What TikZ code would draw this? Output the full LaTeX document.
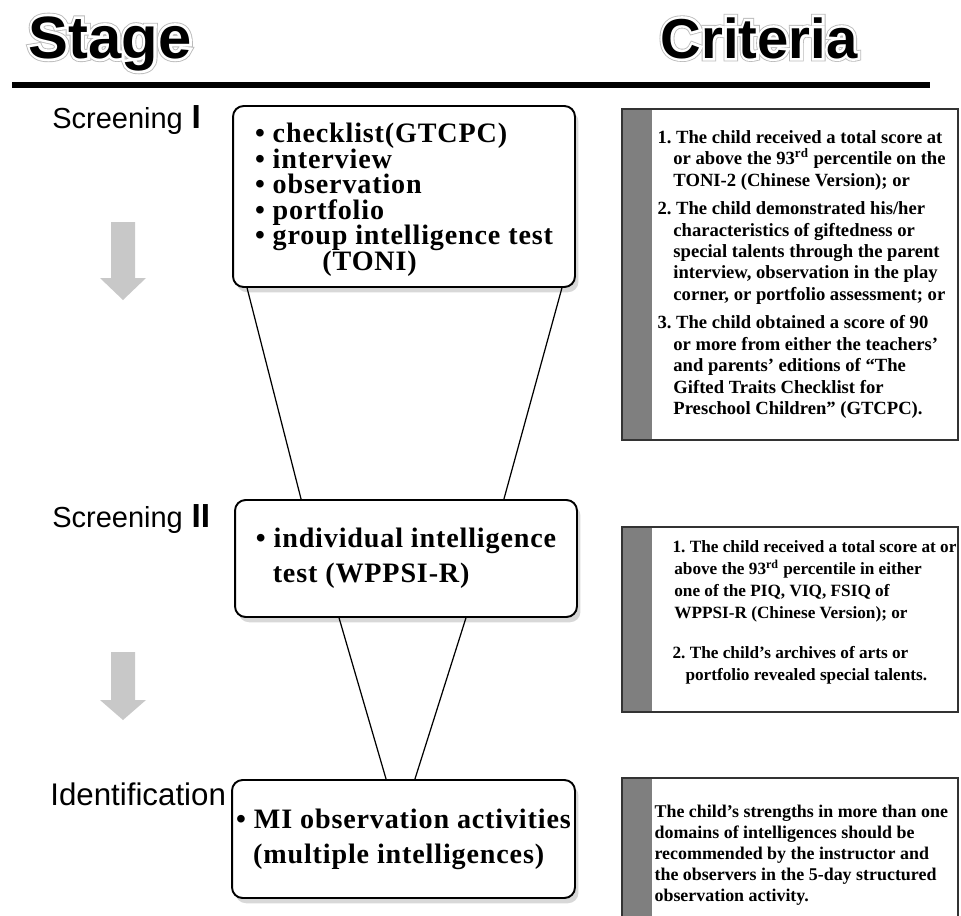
\documentclass[tikz,border=0pt]{standalone}
\usepackage{fontspec}
\setmainfont{Liberation Serif}
\setsansfont{Liberation Sans}
\newfontface\haloouter[FakeBold=12]{Liberation Sans Bold}
\newfontface\haloinner[FakeBold=9]{Liberation Sans Bold}
\newfontface\testface[LetterSpace=3]{Liberation Serif Bold}
\usetikzlibrary{
    calc,
    shadows,
    positioning
}
\frenchspacing

\definecolor{stripgray}{HTML}{7F7F7F}
\definecolor{arrowgray}{HTML}{C8C8C8}
\definecolor{framegray}{HTML}{333333}
\definecolor{halogray}{HTML}{BBBBBB}

\newcommand{\stagefont}{\sffamily\fontsize{16.5}{18}\selectfont}
\newcommand{\bignum}[1]{{\bfseries\fontsize{19}{19}\selectfont #1}}
\newcommand{\testfont}{\testface\fontsize{16}{14.5}\selectfont\lineskiplimit=-\maxdimen}
\newcommand{\critfont}[2]{\bfseries\fontsize{#1}{#2}\selectfont}

\tikzset{
    heading/.style={anchor=base, inner sep=0pt},
    stagelabel/.style={anchor=base west, inner sep=0pt, font=\stagefont},
    testbox/.style={draw, line width=1.1pt, rounded corners=6pt, fill=white,
        align=left, inner sep=2pt, font=\testfont,
        drop shadow={shadow xshift=2pt, shadow yshift=-3pt, opacity=0.3}},
    critbox/.style={draw=framegray, line width=0.9pt, fill=white,
        path picture={\fill[stripgray] (path picture bounding box.north west)
            rectangle ([xshift=0.6cm]path picture bounding box.south west);}},
    crittext/.style 2 args={align=left, inner sep=0pt, font={\critfont{#1}{#2}}},
    funnel/.style={line width=0.7pt},
    stagearrow/.style={fill=arrowgray, draw=none}
}

\begin{document}
\begin{tikzpicture}[x=0.02cm, y=-0.02cm]
    \useasboundingbox (0,0) rectangle (961,916);
    \fill[white] (0,0) rectangle (961,916);

    % headings
    \node[heading, text=halogray, font=\haloouter\fontsize{34}{34}\selectfont] (stage-halo) at (110,58) {Stage};
    \node[heading, text=white, font=\haloinner\fontsize{34}{34}\selectfont] (stage-gap) at (stage-halo.base) {Stage};
    \node[heading, font=\sffamily\bfseries\fontsize{34}{34}\selectfont] (stage) at (stage-halo.base) {Stage};
    \node[heading, text=halogray, font=\haloouter\fontsize{32}{32}\selectfont] (criteria-halo) at (759,58) {Criteria};
    \node[heading, text=white, font=\haloinner\fontsize{32}{32}\selectfont] (criteria-gap) at (criteria-halo.base) {Criteria};
    \node[heading, font=\sffamily\bfseries\fontsize{32}{32}\selectfont] (criteria) at (criteria-halo.base) {Criteria};
    \draw[line width=3.4pt] (12,85) -- (930,85);

    % stages
    \node[stagelabel] (scr1) at (52,128) {Screening\hspace{5pt}\bignum{I}};
    \node[stagelabel] (scr2) at (52,527) {Screening\hspace{5pt}\bignum{II}};
    \node[stagelabel, font=\sffamily\fontsize{17.8}{19}\selectfont] (ident) at (50,805) {Identification};

    \fill[stagearrow] (111,222) -- (135,222) -- (135,278) -- (146,278) -- (123,300) -- (100,278) -- (111,278) -- cycle;
    \fill[stagearrow] (111,652) -- (135,652) -- (135,700) -- (146,700) -- (123,720) -- (100,700) -- (111,700) -- cycle;

    % tests
    \node[testbox, minimum width=6.84cm, minimum height=3.62cm] (test1) at (404,196.5)
        {\rule{0pt}{15pt}• checklist(GTCPC)\\ • interview\\ • observation\\ • portfolio\\
         • group intelligence test\\ \hspace*{2.4em}(TONI)};
    \node[testbox, minimum width=6.84cm, minimum height=2.34cm] (test2) at (406,558.5)
        {• individual intelligence\\[5.5pt] \hspace*{0.6em}test (WPPSI-R)};
    \node[testbox, minimum width=6.86cm, minimum height=2.36cm] (test3) at (403.5,839)
        {• MI observation activities\\[5.5pt] \hspace*{0.6em}(multiple intelligences)};

    \draw[funnel] ($(test1.south west)+(15,0)$) -- ($(test2.north west)+(67,0)$);
    \draw[funnel] ($(test1.south east)+(-14,0)$) -- ($(test2.north east)+(-74,0)$);
    \draw[funnel] ($(test2.south west)+(105,0)$) -- ($(test3.north west)+(155,0)$);
    \draw[funnel] ($(test2.south east)+(-112,0)$) -- ($(test3.north east)+(-161,0)$);

    % criteria
    \node[critbox, minimum width=6.72cm, minimum height=6.62cm] (crit1) at (790,274.5) {};
    \node[crittext={10.6}{12.2}, anchor=west] (crit1-text) at ($(crit1.west)+(36,0)$)
        {1. The child received a total score at\\
         \hspace*{0.85em}or above the 93\textsuperscript{rd} percentile on the\\
         \hspace*{0.85em}TONI-2 (Chinese Version); or\\[4pt]
         2. The child demonstrated his/her\\
         \hspace*{0.85em}characteristics of giftedness or\\
         \hspace*{0.85em}special talents through the parent\\
         \hspace*{0.85em}interview, observation in the play\\
         \hspace*{0.85em}corner, or portfolio assessment; or\\[4pt]
         3. The child obtained a score of 90\\
         \hspace*{0.85em}or more from either the teachers’\\
         \hspace*{0.85em}and parents’ editions of “The\\
         \hspace*{0.85em}Gifted Traits Checklist for\\
         \hspace*{0.85em}Preschool Children” (GTCPC).};

    \node[critbox, minimum width=6.72cm, minimum height=3.7cm] (crit2) at (790,619.5) {};
    \node[crittext={9.8}{12.5}, anchor=west] (crit2-text) at ($(crit2.west)+(51,-7)$)
        {1. The child received a total score at or\\
         \hspace*{0.1em}above the 93\textsuperscript{rd} percentile in either\\
         \hspace*{0.1em}one of the PIQ, VIQ, FSIQ of\\
         \hspace*{0.1em}WPPSI-R (Chinese Version); or\\[10pt]
         2. The child’s archives of arts or\\
         \hspace*{0.75em}portfolio revealed special talents.};

    \node[critbox, minimum width=6.72cm, minimum height=3.24cm] (crit3) at (790,859) {};
    \node[crittext={10.2}{12}, anchor=north west] (crit3-text) at ($(crit3.north west)+(33,27)$)
        {The child’s strengths in more than one\\
         domains of intelligences should be\\
         recommended by the instructor and\\
         the observers in the 5-day structured\\
         observation activity.};
\end{tikzpicture}
\end{document}
